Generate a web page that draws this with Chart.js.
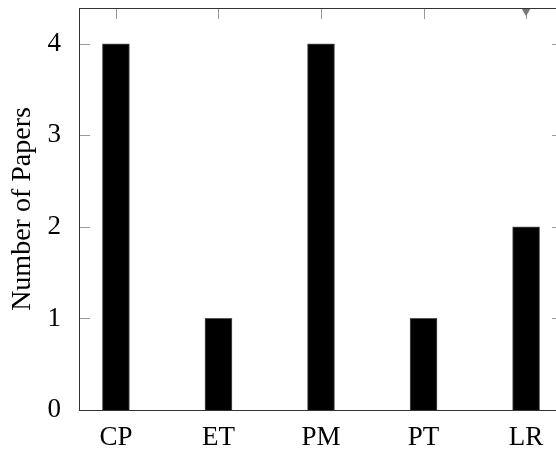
<!DOCTYPE html>
<html>
<head>
<meta charset="utf-8">
<script src="https://cdn.jsdelivr.net/npm/chart.js@4"></script>
<style>
    html, body { margin: 0; padding: 0; background: #fff; overflow: hidden; }
    #wrap { width: 570px; height: 449px; }
</style>
</head>
<body>
<div id="wrap"><canvas id="papers-chart" width="570" height="449"></canvas></div>
<script>
const categories = ['CP', 'ET', 'PM', 'PT', 'LR'];
const paperCounts = [4, 1, 4, 1, 2];
const yTicks = [0, 1, 2, 3, 4];
// small grey marker sitting on the top edge above LR
const markerCategory = 4;
const markerValue = 4.36;

const FONT = "'Liberation Serif', 'Times New Roman', Times, serif";

// pgfplots-style frame: four spines, ticks pointing inwards
const framePlugin = {
    id: 'frame',
    beforeDatasetsDraw(chart) {
        const {ctx, chartArea: a, scales: {x, y}} = chart;
        const len = 11;
        ctx.save();
        ctx.strokeStyle = '#999';
        ctx.lineWidth = 1;
        ctx.beginPath();
        categories.forEach((c, i) => {
            const px = Math.round(x.getPixelForValue(i)) + 0.5;
            ctx.moveTo(px, a.top); ctx.lineTo(px, a.top + len);
            ctx.moveTo(px, a.bottom); ctx.lineTo(px, a.bottom - len);
        });
        yTicks.forEach(v => {
            const py = Math.round(y.getPixelForValue(v)) + 0.5;
            ctx.moveTo(a.left, py); ctx.lineTo(a.left + len, py);
            ctx.moveTo(a.right, py); ctx.lineTo(a.right - len, py);
        });
        ctx.stroke();
        ctx.restore();
    },
    afterDatasetsDraw(chart) {
        const {ctx, chartArea: a} = chart;
        ctx.save();
        ctx.strokeStyle = '#333';
        ctx.lineWidth = 1;
        ctx.strokeRect(Math.round(a.left) + 0.5, Math.round(a.top) + 0.5,
            Math.round(a.right - a.left), Math.round(a.bottom - a.top));
        ctx.restore();
    }
};

new Chart(document.getElementById('papers-chart').getContext('2d'), {
    data: {
        datasets: [{
            type: 'bar',
            data: paperCounts.map((v, i) => ({x: i, y: v})),
            backgroundColor: '#000',
            borderColor: '#555',
            borderWidth: 1,
            barThickness: 27
        }, {
            type: 'scatter',
            data: [{x: markerCategory, y: markerValue}],
            pointStyle: 'triangle',
            rotation: 180,
            radius: 5.5,
            backgroundColor: '#777',
            borderColor: '#777',
            borderWidth: 0,
            clip: false
        }]
    },
    options: {
        responsive: false,
        animation: false,
        layout: { padding: { top: 8, right: 7, left: 0, bottom: 0 } },
        plugins: { legend: { display: false }, tooltip: { enabled: false } },
        scales: {
            x: {
                type: 'linear',
                offset: false,
                min: -0.36,
                max: 4.36,
                grid: { display: false, offset: false },
                border: { display: false },
                afterBuildTicks: s => { s.ticks = categories.map((c, i) => ({value: i})); },
                afterFit: s => { s.height = 39; s.paddingLeft = 0; s.paddingRight = 0; },
                ticks: {
                    callback: v => categories[v],
                    color: '#000',
                    padding: 4,
                    maxRotation: 0,
                    autoSkip: false,
                    font: { family: FONT, size: 27 }
                }
            },
            y: {
                min: 0,
                max: 4.39,
                grid: { display: false },
                border: { display: false },
                afterBuildTicks: s => { s.ticks = yTicks.map(v => ({value: v})); },
                afterFit: s => { s.width = 79; s.paddingTop = 0; s.paddingBottom = 0; },
                ticks: {
                    color: '#000',
                    padding: 10,
                    font: { family: FONT, size: 27 }
                },
                title: {
                    display: true,
                    text: 'Number of Papers',
                    color: '#000',
                    padding: { top: 6 },
                    font: { family: FONT, size: 28 }
                }
            }
        }
    },
    plugins: [framePlugin]
});
</script>
</body>
</html>
